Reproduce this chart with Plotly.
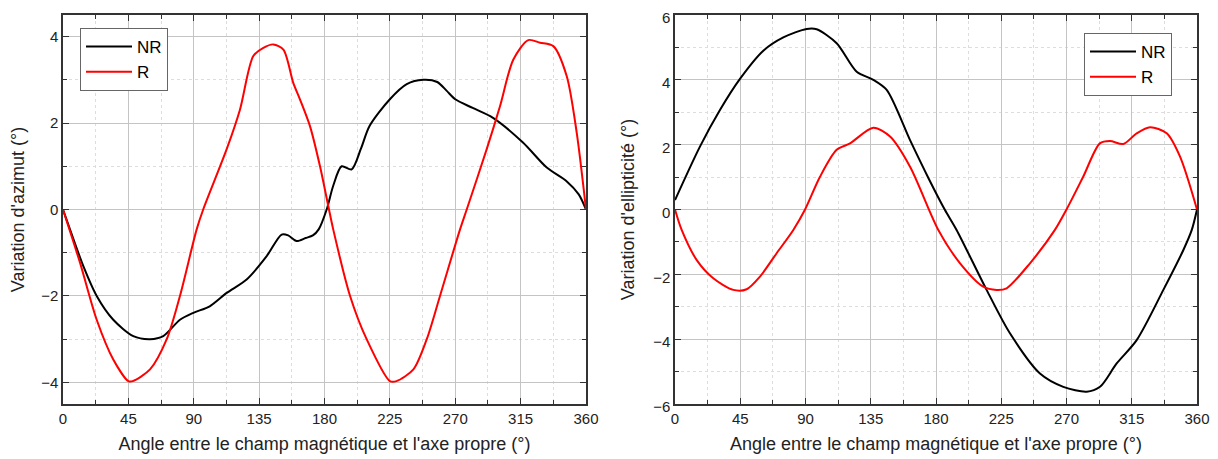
import plotly.graph_objects as go

# ---- Left panel: Variation d'azimut ----
az_nr_x = [0, 4.8, 14, 23.2, 34.6, 48.4, 59.9, 69, 80.5, 89.7, 101, 112.7, 126.4, 140.2, 150.5, 155, 160.8, 167, 172, 176, 181.5, 186, 191.8, 198.7, 205, 211, 225, 236.6, 248, 257.6, 264, 270, 282, 296, 316.6, 333, 346.8, 355, 360]
az_nr_y = [0, -0.46, -1.31, -2.0, -2.55, -2.93, -3.0, -2.93, -2.55, -2.39, -2.24, -1.93, -1.62, -1.08, -0.58, -0.6, -0.73, -0.66, -0.6, -0.46, 0.0, 0.55, 1.0, 0.93, 1.4, 1.93, 2.55, 2.9, 3.0, 2.95, 2.75, 2.55, 2.35, 2.12, 1.55, 0.97, 0.65, 0.35, 0]

az_r_x = [0, 11.7, 23.2, 34.6, 45, 48, 59.9, 71.4, 80.5, 92, 96.5, 112.6, 121.8, 131, 137.9, 144.8, 151.7, 158.5, 163.1, 170, 176.9, 182.6, 186, 197.6, 209, 225, 229.6, 241.2, 250.4, 259.5, 273.3, 277.9, 291.6, 300.8, 310, 320.3, 328.4, 337.5, 346.7, 353.6, 360]
az_r_y = [0, -1.23, -2.55, -3.47, -3.97, -3.97, -3.7, -3.0, -2.0, -0.46, 0.0, 1.39, 2.31, 3.55, 3.74, 3.82, 3.7, 2.93, 2.55, 1.93, 1.0, 0.08, -0.46, -2.0, -3.0, -3.97, -3.97, -3.7, -3.0, -2.0, -0.46, 0.0, 1.39, 2.39, 3.47, 3.92, 3.86, 3.78, 3.09, 1.78, 0]

# ---- Right panel: Variation d'ellipticité ----
el_nr_x = [0, 17.2, 31, 44.8, 60.9, 74.7, 90.8, 97.7, 111.5, 125.3, 136.8, 146, 162.1, 175, 186, 194.2, 214.9, 231, 251.7, 267.8, 283.9, 293.1, 304.6, 318.4, 336.8, 350.6, 356.4, 360]
el_nr_y = [0.29, 1.94, 3.07, 4.03, 4.9, 5.31, 5.57, 5.56, 5.13, 4.25, 4.0, 3.69, 2.14, 0.95, 0.0, -0.63, -2.48, -3.82, -5.06, -5.47, -5.62, -5.47, -4.75, -4.03, -2.48, -1.25, -0.63, 0]

el_r_x = [0, 4.6, 15, 26.4, 40.2, 49.4, 58.6, 70.1, 81.6, 89.7, 100, 111.5, 120.7, 136.8, 148.3, 162.1, 181.6, 196.6, 212.6, 221.8, 228.7, 244.8, 262, 270, 281.5, 293, 300, 309.2, 318.4, 327.6, 339.1, 348.3, 360]
el_r_y = [0, -0.63, -1.56, -2.12, -2.48, -2.46, -2.07, -1.35, -0.63, 0.0, 1.01, 1.84, 2.04, 2.52, 2.25, 1.32, -0.63, -1.66, -2.38, -2.48, -2.43, -1.66, -0.63, 0.0, 1.01, 2.04, 2.11, 2.02, 2.35, 2.54, 2.35, 1.63, 0]

x_ticks = [0, 45, 90, 135, 180, 225, 270, 315, 360]
series_names = ["NR", "R"]
colors = ["#000000", "#ff0000"]

FONT = "Liberation Sans, Arial, sans-serif"
OFF = 8  # default page body margin
W, H = 1218 - OFF, 459 - OFF

fig = go.Figure()
for name, xs, ys, col in [(series_names[0], az_nr_x, az_nr_y, colors[0]),
                          (series_names[1], az_r_x, az_r_y, colors[1])]:
    fig.add_trace(go.Scatter(x=xs, y=ys, name=name, mode="lines",
                             line=dict(color=col, width=2, shape="spline", smoothing=0.8),
                             xaxis="x", yaxis="y", legend="legend"))
for name, xs, ys, col in [(series_names[0], el_nr_x, el_nr_y, colors[0]),
                          (series_names[1], el_r_x, el_r_y, colors[1])]:
    fig.add_trace(go.Scatter(x=xs, y=ys, name=name, mode="lines",
                             line=dict(color=col, width=2, shape="spline", smoothing=0.8),
                             xaxis="x2", yaxis="y2", legend="legend2"))

def px_x(p):
    return (p - OFF) / W

def px_y(p):
    return 1 - (p - OFF) / H

common = dict(
    showline=True, linecolor="#333333", linewidth=1.5, mirror="ticks",
    ticks="inside", ticklen=6, tickcolor="#333333", tickwidth=1.2,
    showgrid=True, gridcolor="#c4c4c4", gridwidth=1,
    zeroline=False, automargin=False, ticklabeloverflow="allow",
    tickfont=dict(family=FONT, size=15, color="#222222"),
)

xcommon = dict(common, range=[0, 360], tickvals=x_ticks,
               minor=dict(dtick=22.5, tick0=0, ticks="inside", ticklen=4, tickcolor="#333333",
                          showgrid=True, gridcolor="#dddddd", griddash="dot"),
               title=dict(text="Angle entre le champ magnétique et l'axe propre (°)",
                          font=dict(family=FONT, size=18, color="#222222"), standoff=12))

legend_style = dict(xanchor="left", yanchor="top",
                    bgcolor="white", bordercolor="#666666", borderwidth=1,
                    font=dict(family=FONT, size=17, color="#000000"),
                    tracegroupgap=0, itemwidth=46)

fig.update_layout(
    width=W, height=H,
    margin=dict(l=0, r=0, t=0, b=0),
    paper_bgcolor="white", plot_bgcolor="white",
    showlegend=True,
    xaxis=dict(xcommon, domain=[px_x(63), px_x(586)], anchor="y"),
    yaxis=dict(common, domain=[px_y(404), px_y(15)], anchor="x", range=[-4.5, 4.5],
               tickvals=[-4, -2, 0, 2, 4],
               minor=dict(dtick=1, tick0=1, ticks="inside", ticklen=4, tickcolor="#333333",
                          showgrid=True, gridcolor="#dddddd", griddash="dot"),
               title=dict(text="Variation d'azimut (°)",
                          font=dict(family=FONT, size=18, color="#222222"), standoff=14)),
    xaxis2=dict(xcommon, domain=[px_x(675), px_x(1197)], anchor="y2"),
    yaxis2=dict(common, domain=[px_y(404), px_y(15)], anchor="x2", range=[-6, 6],
                tickvals=[-6, -4, -2, 0, 2, 4, 6], ticklabelshift=3,
                minor=dict(dtick=1, tick0=1, ticks="inside", ticklen=4, tickcolor="#333333",
                           showgrid=True, gridcolor="#dddddd", griddash="dot"),
                title=dict(text="Variation d'ellipticité (°)",
                           font=dict(family=FONT, size=18, color="#222222"), standoff=14)),
    legend=dict(legend_style, x=px_x(80), y=px_y(28)),
    legend2=dict(legend_style, x=px_x(1084), y=px_y(33)),
)

fig.write_html("out.html")
